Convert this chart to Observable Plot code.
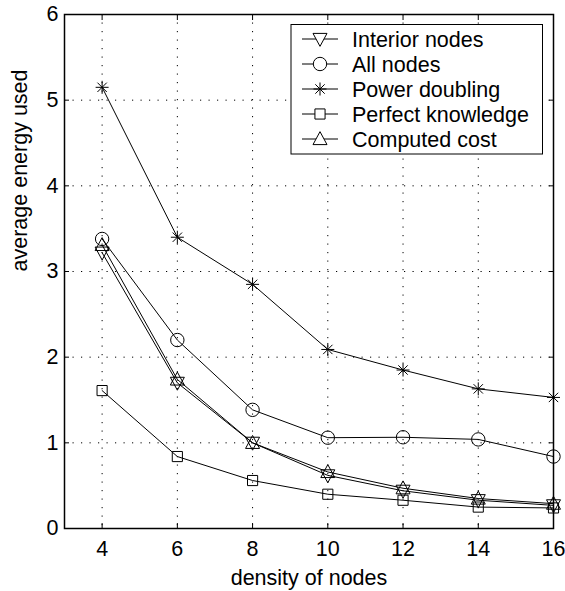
<!DOCTYPE html>
<html><head><meta charset="utf-8">
<script src="https://cdn.jsdelivr.net/npm/d3@7"></script>
<script src="https://cdn.jsdelivr.net/npm/@observablehq/plot@0.6"></script>
<style>body{margin:0;background:#fff}#chart{position:relative;width:565px;height:591px}</style>
</head><body><div id="chart"></div>
<script>
// ---- data ----
const density = [4, 6, 8, 10, 12, 14, 16];
const seriesNames = ["Interior nodes", "All nodes", "Power doubling", "Perfect knowledge", "Computed cost"];
const interiorNodes    = [3.22, 1.70, 1.00, 0.62, 0.44, 0.33, 0.27];
const allNodes         = [3.38, 2.20, 1.385, 1.06, 1.065, 1.04, 0.84];
const powerDoubling    = [5.15, 3.40, 2.85, 2.09, 1.85, 1.63, 1.53];
const perfectKnowledge = [1.61, 0.84, 0.56, 0.40, 0.33, 0.25, 0.24];
const computedCost     = [3.31, 1.74, 1.00, 0.66, 0.47, 0.35, 0.29];
const xTicks = [4, 6, 8, 10, 12, 14, 16];
const yTicks = [0, 1, 2, 3, 4, 5, 6];
const xLabel = "density of nodes";
const yLabel = "average energy used";

const seriesValues = [interiorNodes, allNodes, powerDoubling, perfectKnowledge, computedCost];

// ---- marker shapes (hollow, MATLAB-like) ----
const rad = s => Math.sqrt(s / Math.PI);
const triDown = {draw(c, s) { const r = rad(s); c.moveTo(0, 1.05 * r); c.lineTo(r, -0.8 * r); c.lineTo(-r, -0.8 * r); c.closePath(); }};
const triUp = {draw(c, s) { const r = rad(s); c.moveTo(0, -1.05 * r); c.lineTo(r, 0.8 * r); c.lineTo(-r, 0.8 * r); c.closePath(); }};
const circ = {draw(c, s) { const r = rad(s); c.moveTo(r, 0); c.arc(0, 0, r, 0, 2 * Math.PI); c.closePath(); }};
const sq = {draw(c, s) { const r = rad(s) * 0.78; c.rect(-r, -r, 2 * r, 2 * r); }};
const star = {draw(c, s) { const r = rad(s); const d = r * 0.72;
  c.moveTo(-r, 0); c.lineTo(r, 0); c.moveTo(0, -r); c.lineTo(0, r);
  c.moveTo(-d, -d); c.lineTo(d, d); c.moveTo(-d, d); c.lineTo(d, -d); }};
const seriesSymbols = [triDown, circ, star, sq, triUp];
const seriesR = [7, 6.7, 6.5, 6.5, 7];

const data = seriesNames.flatMap((name, i) =>
  density.map((d, j) => ({series: name, density: d, energy: seriesValues[i][j]})));

const FONT = 21.5;
const intFmt = d3.format("d");
const marks = [
  Plot.gridX(xTicks, {stroke: "#000", strokeOpacity: 1, strokeDasharray: "1.2,7.3"}),
  Plot.gridY(yTicks, {stroke: "#000", strokeOpacity: 1, strokeDasharray: "1.2,7.3"}),
  Plot.axisX(xTicks, {anchor: "bottom", tickSize: -5, tickPadding: 17, tickFormat: intFmt, fontSize: FONT, label: null}),
  Plot.axisX(xTicks, {anchor: "top", tickSize: -5, tickFormat: () => "", label: null}),
  Plot.axisY(yTicks, {anchor: "left", tickSize: -5, tickPadding: 11, tickFormat: intFmt, fontSize: FONT, label: null}),
  Plot.axisY(yTicks, {anchor: "right", tickSize: -5, tickFormat: () => "", label: null}),
  Plot.frame({stroke: "#000", strokeWidth: 1.5}),
  Plot.line(data, {x: "density", y: "energy", z: "series", stroke: "#000", strokeWidth: 1}),
  ...seriesNames.map((name, i) =>
    Plot.dot(data.filter(d => d.series === name), {x: "density", y: "energy", symbol: seriesSymbols[i], r: seriesR[i], stroke: "#000", fill: "none", strokeWidth: 1})),
  Plot.text([xLabel], {frameAnchor: "bottom", text: d => d, dy: 50, lineAnchor: "middle", fontSize: FONT}),
  Plot.text([yLabel], {frameAnchor: "left", text: d => d, dx: -44, rotate: -90, lineAnchor: "middle", fontSize: FONT})
];

const chart = Plot.plot({
  width: 565, height: 591,
  marginLeft: 64, marginRight: 12, marginTop: 14, marginBottom: 63,
  style: {fontFamily: "'Liberation Sans', Arial, Helvetica, sans-serif", fontSize: FONT + "px", color: "#000", background: "#fff"},
  x: {domain: [3, 16], label: null},
  y: {domain: [0, 6], label: null},
  marks
});
document.getElementById("chart").appendChild(chart);

// ---- legend box (inside the axes, top-right) ----
const svg = d3.select(chart);
const lg = svg.append("g").attr("transform", "translate(291,24.5)").attr("text-anchor", "start");
lg.append("rect").attr("width", 251.5).attr("height", 129.5).attr("fill", "#fff").attr("stroke", "#000").attr("stroke-width", 1);
seriesNames.forEach((name, i) => {
  const cy = 14.5 + i * 25;
  const g = lg.append("g").attr("transform", `translate(0,${cy})`);
  g.append("line").attr("x1", 11).attr("x2", 47).attr("y1", 0).attr("y2", 0).attr("stroke", "#000");
  g.append("path").attr("transform", "translate(29,0)")
    .attr("d", d3.symbol(seriesSymbols[i], Math.PI * seriesR[i] * seriesR[i])())
    .attr("fill", "#fff").attr("stroke", "#000");
  g.append("text").attr("x", 61).attr("y", 0).attr("dy", "0.35em").attr("text-anchor", "start")
    .attr("font-size", FONT).attr("fill", "#000").text(name);
});
</script>
</body></html>
